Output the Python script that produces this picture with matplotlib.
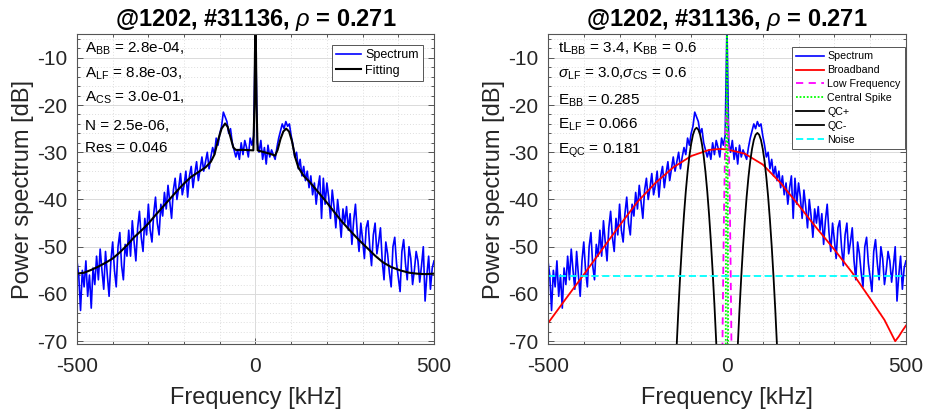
import matplotlib
matplotlib.use('Agg')
import matplotlib.pyplot as plt
import numpy as np
from matplotlib.ticker import MultipleLocator

plt.rcParams['font.family'] = ['Liberation Sans', 'DejaVu Sans']
plt.rcParams['mathtext.fontset'] = 'custom'
plt.rcParams['mathtext.rm'] = 'Liberation Sans'
plt.rcParams['mathtext.it'] = 'Liberation Sans:italic'
plt.rcParams['mathtext.bf'] = 'Liberation Sans:bold'
plt.rcParams['axes.unicode_minus'] = False

# ---------------- data ----------------
freq = np.arange(-500, 501, 5)
spectrum = [
    -53, -56, -63.5, -55, -58.5, -53, -60.5, -56, -63, -54.5,
    -58, -52, -57, -50.5, -55, -59, -51, -56, -60.5, -53,
    -49, -55, -58.5, -50, -47, -54, -57, -49.5, -52, -46.5,
    -52, -44.5, -49, -53, -46, -42.5, -48, -51, -44, -47.5,
    -41, -46.5, -49, -43, -39.5, -45, -47.5, -41, -43.5, -38.5,
    -42, -37, -40.5, -44, -38, -35.5, -40, -37.5, -34.5, -39,
    -37, -34, -39.5, -35, -33, -37.5, -34.5, -32, -36, -33.5,
    -31, -34, -32, -30, -33.5, -31, -29, -30.5, -27, -28.5,
    -26, -24.5, -21.5, -22.5, -23.5, -26, -25, -28, -29.5, -31,
    -29.5, -31.5, -28, -30.5, -27.5, -29, -31, -27, -28.5, -26.5,
    -3,
    -28, -30, -27.5, -31.5, -29, -32.5, -28.5, -31, -29.5, -30.5,
    -31.5, -29, -27, -25.5, -24, -25, -23.5, -24.5, -24, -26.5,
    -28.5, -31, -30, -33.5, -31.5, -35, -33, -36, -34, -37.5,
    -35, -39, -36.5, -41, -37.5, -35, -44, -35.5, -41, -36.5,
    -39.5, -44, -38, -41.5, -46, -40, -43.5, -48, -42, -45,
    -41.5, -46.5, -43, -49.5, -44.5, -41, -47, -51, -45, -48.5,
    -52.5, -46, -44.5, -50, -54, -47.5, -45, -51.5, -49, -46,
    -53, -57, -49, -51.5, -55.5, -58.5, -50, -48, -53.5, -56.5,
    -59.5, -51, -48.5, -53.5, -57, -50, -52.5, -58, -55, -51,
    -53, -57.5, -54, -50, -61.5, -56, -52, -59, -54.5, -53,
]

fit_freq = [-500, -480, -460, -440, -420, -400, -380, -360, -340, -320, -300,
            -280, -260, -240, -220, -200, -180, -160, -140, -125, -115, -105,
            -95, -85, -78, -70, -62, -55, -30, -6, -3, -1.5, 0, 1.5, 3, 6,
            20, 40, 55, 62, 70, 78, 86, 94, 102, 111, 120, 135, 153, 172, 195,
            217, 240, 265, 290, 312, 335, 357, 380, 405, 430, 452, 475, 500]
fit_vals = [-55.7, -55.5, -54.9, -54.2, -53.4, -52.5, -51.2, -49.7, -48.0, -46.6, -45.1,
            -43.3, -41.6, -39.9, -38.2, -36.6, -35.2, -34.2, -33.2, -32.0, -30.5, -27.5,
            -25.0, -23.9, -24.6, -26.8, -29.0, -29.5, -29.5, -29.6, -20.0, -9.0, -4.0, -9.0, -20.0, -29.6,
            -29.9, -30.3, -30.7, -29.5, -27.2, -25.6, -25.0, -25.6, -27.6, -31.0, -33.2, -35.0, -36.4, -38.1, -40.2,
            -42.3, -44.5, -46.6, -48.6, -50.2, -51.9, -53.3, -54.3, -55.0, -55.5, -55.7, -55.8, -55.7]

bb_freq = [-500, -450, -400, -350, -300, -250, -200, -150, -100, -50, -20, 0,
           50, 100, 150, 200, 250, 300, 350, 400, 440, 460, 470, 480, 490, 500]
bb_vals = [-66.2, -61.0, -55.9, -50.7, -45.5, -40.5, -36.5, -33.2, -30.8, -29.5, -29.3, -29.4,
           -30.3, -32.6, -36.5, -41.2, -46.0, -50.6, -55.5, -61.0, -65.5, -68.5, -70.0, -69.0, -67.8, -66.7]

lf_freq = [-16, -14, -12, -10, -8, -6, -4, -2, 0, 2, 4, 6, 8, 10, 12, 14, 16]
lf_vals = [-102.6, -83.3, -66.6, -52.6, -41.1, -32.1, -25.7, -21.9, -20.6,
           -21.9, -25.7, -32.1, -41.1, -52.6, -66.6, -83.3, -102.6]

cs_freq = [-4, -3, -2, -1, 0, 1, 2, 3, 4]
cs_vals = [-101.2, -59.2, -29.2, -11.2, -5.2, -11.2, -29.2, -59.2, -101.2]

qcm_freq = list(range(-150, -19, 5))
qcm_vals = [-88.2, -78.8, -70.2, -62.3, -55.2, -48.8, -43.2, -38.3, -34.2, -30.8, -28.2, -26.3, -25.2, -24.8,
            -25.2, -26.3, -28.2, -30.8, -34.2, -38.3, -43.2, -48.8, -55.2, -62.3, -70.2, -78.8, -88.2]
qcp_freq = list(range(20, 151, 5))
qcp_vals = [-89.3, -79.9, -71.3, -63.4, -56.3, -49.9, -44.3, -39.4, -35.3, -31.9, -29.3, -27.4, -26.3, -25.9,
            -26.3, -27.4, -29.3, -31.9, -35.3, -39.4, -44.3, -49.9, -56.3, -63.4, -71.3, -79.9, -89.3]

noise_level = -56.2

title_txt = r'@1202, #31136, $\rho$ = 0.271'
left_notes = [r'A$_{\rm BB}$ = 2.8e-04,', r'A$_{\rm LF}$ = 8.8e-03,', r'A$_{\rm CS}$ = 3.0e-01,',
              'N = 2.5e-06,', 'Res = 0.046']
right_notes = [r'tL$_{\rm BB}$ = 3.4, K$_{\rm BB}$ = 0.6',
               r'$\sigma_{\rm LF}$ = 3.0,$\sigma_{\rm CS}$ = 0.6',
               r'E$_{\rm BB}$ = 0.285', r'E$_{\rm LF}$ = 0.066', r'E$_{\rm QC}$ = 0.181']

# ---------------- figure ----------------
fig = plt.figure(figsize=(9.25, 4.12), dpi=100)
axL = fig.add_axes([0.0832, 0.165, 0.386, 0.752])
axR = fig.add_axes([0.5924, 0.165, 0.387, 0.752])

AX_COL = '#555555'
TXT_COL = '#262626'


def style(ax):
    ax.set_xlim(-500, 500)
    ax.set_ylim(-70.6, -5)
    ax.set_xticks([-500, 0, 500])
    ax.xaxis.set_minor_locator(MultipleLocator(100))
    ax.set_yticks(list(range(-70, -9, 10)))
    ax.yaxis.set_minor_locator(MultipleLocator(2))
    ax.grid(which='major', color='#dadada', lw=0.7, ls='-')
    ax.grid(which='minor', color='#dedede', lw=0.7, ls=(0, (1, 2)))
    ax.set_axisbelow(True)
    ax.tick_params(which='both', direction='in', top=True, right=True,
                   labelsize=15, color=AX_COL, labelcolor=TXT_COL, width=0.7)
    ax.tick_params(which='major', length=4)
    ax.tick_params(axis='x', which='major', pad=9)
    ax.tick_params(axis='y', which='major', pad=7)
    ax.tick_params(which='minor', length=2)
    for s in ax.spines.values():
        s.set_color(AX_COL)
        s.set_linewidth(0.8)
    ax.set_xlabel('Frequency [kHz]', fontsize=17, color=TXT_COL, labelpad=8)
    ax.set_ylabel('Power spectrum [dB]', fontsize=17, color=TXT_COL, labelpad=2)
    ax.set_title(title_txt, fontsize=17, fontweight='bold', color='black', pad=6)


for ax in (axL, axR):
    style(ax)

# left panel
axL.plot(freq, spectrum, color='#0000ff', lw=1.2, label='Spectrum')
axL.plot(fit_freq, fit_vals, color='black', lw=1.5, label='Fitting')
legL = axL.legend(loc='upper right', bbox_to_anchor=(0.969, 0.965), borderaxespad=0,
                  fontsize=9, fancybox=False, framealpha=1, edgecolor=AX_COL,
                  handlelength=2.0, handletextpad=0.3, borderpad=0.35, labelspacing=0.25)
legL.get_frame().set_linewidth(0.7)

yL = [0.942, 0.861, 0.781, 0.690, 0.619]
for t, y in zip(left_notes, yL):
    axL.text(0.022, y, t, transform=axL.transAxes, fontsize=11, va='baseline', ha='left', color='black')

# right panel
axR.plot(freq, spectrum, color='#0000ff', lw=1.2, label='Spectrum')
axR.plot(bb_freq, bb_vals, color='#ff0000', lw=1.3, label='Broadband')
axR.plot(lf_freq, lf_vals, color='#ff00ff', lw=1.3, ls=(0, (4, 3)), label='Low Frequency')
axR.plot(cs_freq, cs_vals, color='#00ff00', lw=1.3, ls=(0, (1, 1)), label='Central Spike')
axR.plot(qcp_freq, qcp_vals, color='black', lw=1.3, label='QC+')
axR.plot(qcm_freq, qcm_vals, color='black', lw=1.3, label='QC-')
axR.axhline(noise_level, color='#00ffff', lw=1.3, ls=(0, (4, 2)), label='Noise')
legR = axR.legend(loc='upper right', bbox_to_anchor=(0.997, 0.958), borderaxespad=0,
                  fontsize=7.7, fancybox=False, framealpha=1, edgecolor=AX_COL,
                  handlelength=2.6, handletextpad=0.3, borderpad=0.4, labelspacing=0.36)
legR.get_frame().set_linewidth(0.7)

yR = [0.942, 0.861, 0.774, 0.694, 0.613]
for t, y in zip(right_notes, yR):
    axR.text(0.028, y, t, transform=axR.transAxes, fontsize=11, va='baseline', ha='left', color='black')

fig.savefig('out.png', dpi=100)
